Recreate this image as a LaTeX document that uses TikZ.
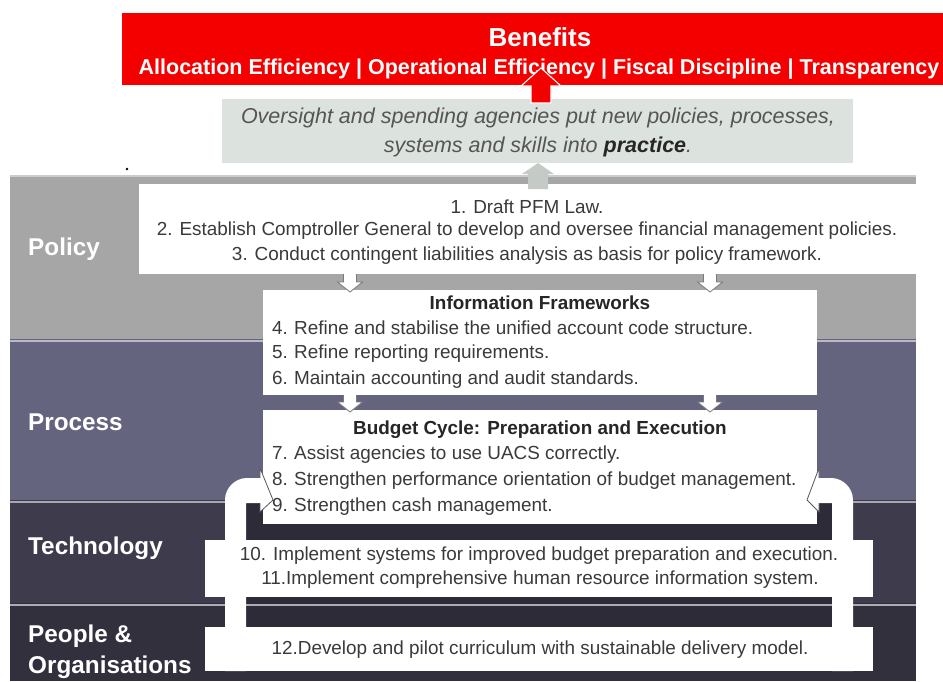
\documentclass[tikz,border=0pt]{standalone}
\usepackage{fontspec}
\setmainfont{Liberation Sans}
\usetikzlibrary{calc}

\definecolor{bannerred}{HTML}{F50000}
\definecolor{practicegray}{HTML}{DCE2DE}
\definecolor{upgray}{HTML}{C4CBC7}
\definecolor{policyband}{HTML}{A6A6A6}
\definecolor{processband}{HTML}{65647F}
\definecolor{techband}{HTML}{3E3B4D}
\definecolor{peopleband}{HTML}{33303E}
\definecolor{innerdark}{HTML}{2E2B38}
\definecolor{bodytext}{HTML}{3A3A3A}
\definecolor{titletext}{HTML}{262626}
\definecolor{italictext}{HTML}{555555}
\definecolor{edgegray}{HTML}{7A7A7A}

\newcommand\bodysize{\fontsize{18.9}{22}\selectfont}
\newcommand\num[1]{\makebox[22pt][l]{#1}}

\tikzset{
  x=1pt, y=-1pt,
  block/.style={draw=none, inner sep=0pt, outer sep=0pt, anchor=north west},
  itembox/.style={block, fill=white},
  bandlabel/.style={text=white, font=\fontsize{24.3}{28}\selectfont\bfseries, anchor=west, inner sep=0pt},
  item/.style={text=bodytext, font=\bodysize, anchor=west, inner sep=0pt},
  centreditem/.style={text=bodytext, font=\bodysize, inner sep=0pt},
  boxtitle/.style={text=titletext, font=\bodysize\bfseries, inner sep=0pt},
  hollowhead/.style={fill=white, draw=edgegray, line width=0.8pt, line join=miter},
  bendarrow/.style={fill=white, draw=none},
  chevron/.style={draw=black!65, line width=0.8pt, line join=miter},
  separator/.style={draw=#1, line width=1.6pt},
}

\begin{document}
\begin{tikzpicture}
\useasboundingbox[fill=white] (0,0) rectangle (943,681);

% ---- layer bands ----
\node[block, fill=policyband,  minimum width=906pt, minimum height=163pt] (policy)  at (10,176) {};
\node[block, fill=processband, minimum width=906pt, minimum height=161pt] (process) at (10,339) {};
\node[block, fill=techband,    minimum width=906pt, minimum height=103pt] (tech)    at (10,500) {};
\node[block, fill=peopleband,  minimum width=906pt, minimum height=78pt]  (people)  at (10,603) {};
\node[block, fill=innerdark,   minimum width=586pt, minimum height=124pt] (inner)   at (246,503) {};

\draw[separator=black!20] (policy.north west)  -- (policy.north east);
\draw[separator=processband!45] ($(process.north west)+(0,2)$) -- ($(process.north east)+(0,2)$);
\draw[separator=techband!45]    ($(tech.north west)+(0,2)$)    -- ($(tech.north east)+(0,2)$);
\draw[separator=peopleband!40]  ($(people.north west)+(0,2)$)  -- ($(people.north east)+(0,2)$);

% ---- band labels ----
\node[bandlabel] (lpolicy)  at (28,249) {Policy};
\node[bandlabel] (lprocess) at (28,422) {Process};
\node[bandlabel] (ltech)    at (28,548) {Technology};
\node[bandlabel] (lpeople)  at (28,636) {People \&};
\node[bandlabel] (lorg)     at (28,667) {Organisations};

% ---- benefits banner and practice box ----
\node[block, fill=bannerred, minimum width=821pt, minimum height=72pt] (banner) at (122,13) {};
\node[text=white, font=\fontsize{26}{30}\selectfont\bfseries, inner sep=0pt] (btitle) at (540,37) {Benefits};
\node[text=white, font=\fontsize{21.5}{24}\selectfont\bfseries, inner sep=0pt] (blist) at (539,69)
  {Allocation Efficiency | Operational Efficiency | Fiscal Discipline | Transparency};

\node[block, fill=practicegray, minimum width=631pt, minimum height=64pt] (practice) at (222,99) {};
\node[text=italictext, font=\fontsize{21.5}{24}\selectfont\itshape, inner sep=0pt] (pline1) at (538,118)
  {Oversight and spending agencies put new policies, processes,};
\node[text=italictext, font=\fontsize{21.5}{24}\selectfont\itshape, inner sep=0pt] (pline2) at (538,147)
  {systems and skills into \textcolor{titletext}{\bfseries practice}.};

\fill (127,169) circle (1.3pt);

% ---- action boxes ----
\node[itembox, minimum width=777pt, minimum height=90pt]  (polbox)  at (139,184) {};
\node[itembox, minimum width=554pt, minimum height=105pt] (infobox) at (263,290) {};
\node[itembox, minimum width=554pt, minimum height=114pt] (budget)  at (263,410) {};
\node[itembox, minimum width=668pt, minimum height=57pt]  (techbox) at (205,540) {};
\node[itembox, minimum width=668pt, minimum height=44pt]  (pplbox)  at (205,627) {};

% ---- up arrows into the practice box and the banner ----
\coordinate (upx) at (538,0);
\coordinate (redx) at (541,0);
\coordinate (gtip) at (practice.south -| upx);
\coordinate (gbase) at (polbox.north -| upx);
\fill[upgray] ($(gbase)+(-10,5)$) -- ($(gtip)+(-10,11)$) -- ($(gtip)+(-16,11)$) -- (gtip)
  -- ($(gtip)+(16,11)$) -- ($(gtip)+(10,11)$) -- ($(gbase)+(10,5)$) -- cycle;

\coordinate (rbase) at (practice.north -| redx);
\coordinate (rhead) at ($(banner.south -| redx)+(0,1)$);
\coordinate (rtip)  at ($(rhead)+(0,-18)$);
\filldraw[fill=bannerred, draw=white, line width=1.1pt, line join=miter]
  ($(rbase)+(-10,4)$) -- ($(rhead)+(-10,0)$) -- ($(rhead)+(-20,0)$) -- (rtip)
  -- ($(rhead)+(20,0)$) -- ($(rhead)+(10,0)$) -- ($(rbase)+(10,4)$) -- cycle;

% ---- hollow down arrows between the policy, information and budget boxes ----
\foreach \ax/\top/\bot/\nm in {350/polbox/infobox/a, 710/polbox/infobox/b, 350/infobox/budget/c, 710/infobox/budget/d}{
  \coordinate (h\nm x) at (\ax,0);
  \coordinate (h\nm s) at (\top.south -| h\nm x);
  \coordinate (h\nm t) at ($(\bot.north -| h\nm x)+(0,2)$);
  \filldraw[hollowhead] (h\nm s) ++(-6.5,0) -- ($(h\nm t)+(-6.5,-10)$) -- ($(h\nm t)+(-12.5,-10)$) -- (h\nm t)
    -- ($(h\nm t)+(12.5,-10)$) -- ($(h\nm t)+(6.5,-10)$) -- ($(h\nm s)+(6.5,0)$);
}

% ---- bent arrows from the people box back into the budget cycle ----
\coordinate (lbar) at (225,0);
\coordinate (lfoot) at (pplbox.south -| lbar);
\coordinate (ltip) at ($(budget.west)+(10,33)$);
\fill[bendarrow] (lfoot) -- (225,500) .. controls (225,488) and (235,478) .. (247,478)
  -- (260,478) -- (260,468) -- (ltip) -- (260,512) -- (260,503) -- (246,503) -- (246,671) -- cycle;
\draw[chevron] (260,478) -- (260,468) -- (ltip) -- (260,512) -- (260,503);

\coordinate (rbar) at (853,0);
\coordinate (rfoot) at (pplbox.south -| rbar);
\coordinate (rtipb) at ($(budget.east)+(-10,33)$);
\fill[bendarrow] (rfoot) -- (853,500) .. controls (853,488) and (843,478) .. (831,478)
  -- (819,478) -- (819,468) -- (rtipb) -- (819,512) -- (819,503) -- (832,503) -- (832,671) -- cycle;
\draw[chevron] (819,478) -- (819,468) -- (rtipb) -- (819,512) -- (819,503);

% ---- action texts ----
\node[centreditem] (t1) at (527,207) {1.\hspace{7pt}Draft PFM Law.};
\node[centreditem] (t2) at (527,231) {2.\hspace{7pt}Establish Comptroller General to develop and oversee financial management policies.};
\node[centreditem] (t3) at (527,256) {3.\hspace{7pt}Conduct contingent liabilities analysis as basis for policy framework.};

\node[boxtitle] (infotitle) at (540,303) {Information Frameworks};
\node[item] (t4) at (272,328) {\num{4.}Refine and stabilise the unified account code structure.};
\node[item] (t5) at (272,354) {\num{5.}Refine reporting requirements.};
\node[item] (t6) at (272,380) {\num{6.}Maintain accounting and audit standards.};

\node[boxtitle] (budgettitle) at (540,430) {Budget Cycle: Preparation and Execution};
\node[item] (t7) at (272,455) {\num{7.}Assist agencies to use UACS correctly.};
\node[item] (t8) at (272,481) {\num{8.}Strengthen performance orientation of budget management.};
\node[item] (t9) at (272,507) {\num{9.}Strengthen cash management.};

\node[centreditem] (t10) at (539,556) {10.\hspace{7pt}Implement systems for improved budget preparation and execution.};
\node[centreditem] (t11) at (540,580) {11.Implement comprehensive human resource information system.};
\node[centreditem] (t12) at (540,650) {12.Develop and pilot curriculum with sustainable delivery model.};

\end{tikzpicture}
\end{document}
